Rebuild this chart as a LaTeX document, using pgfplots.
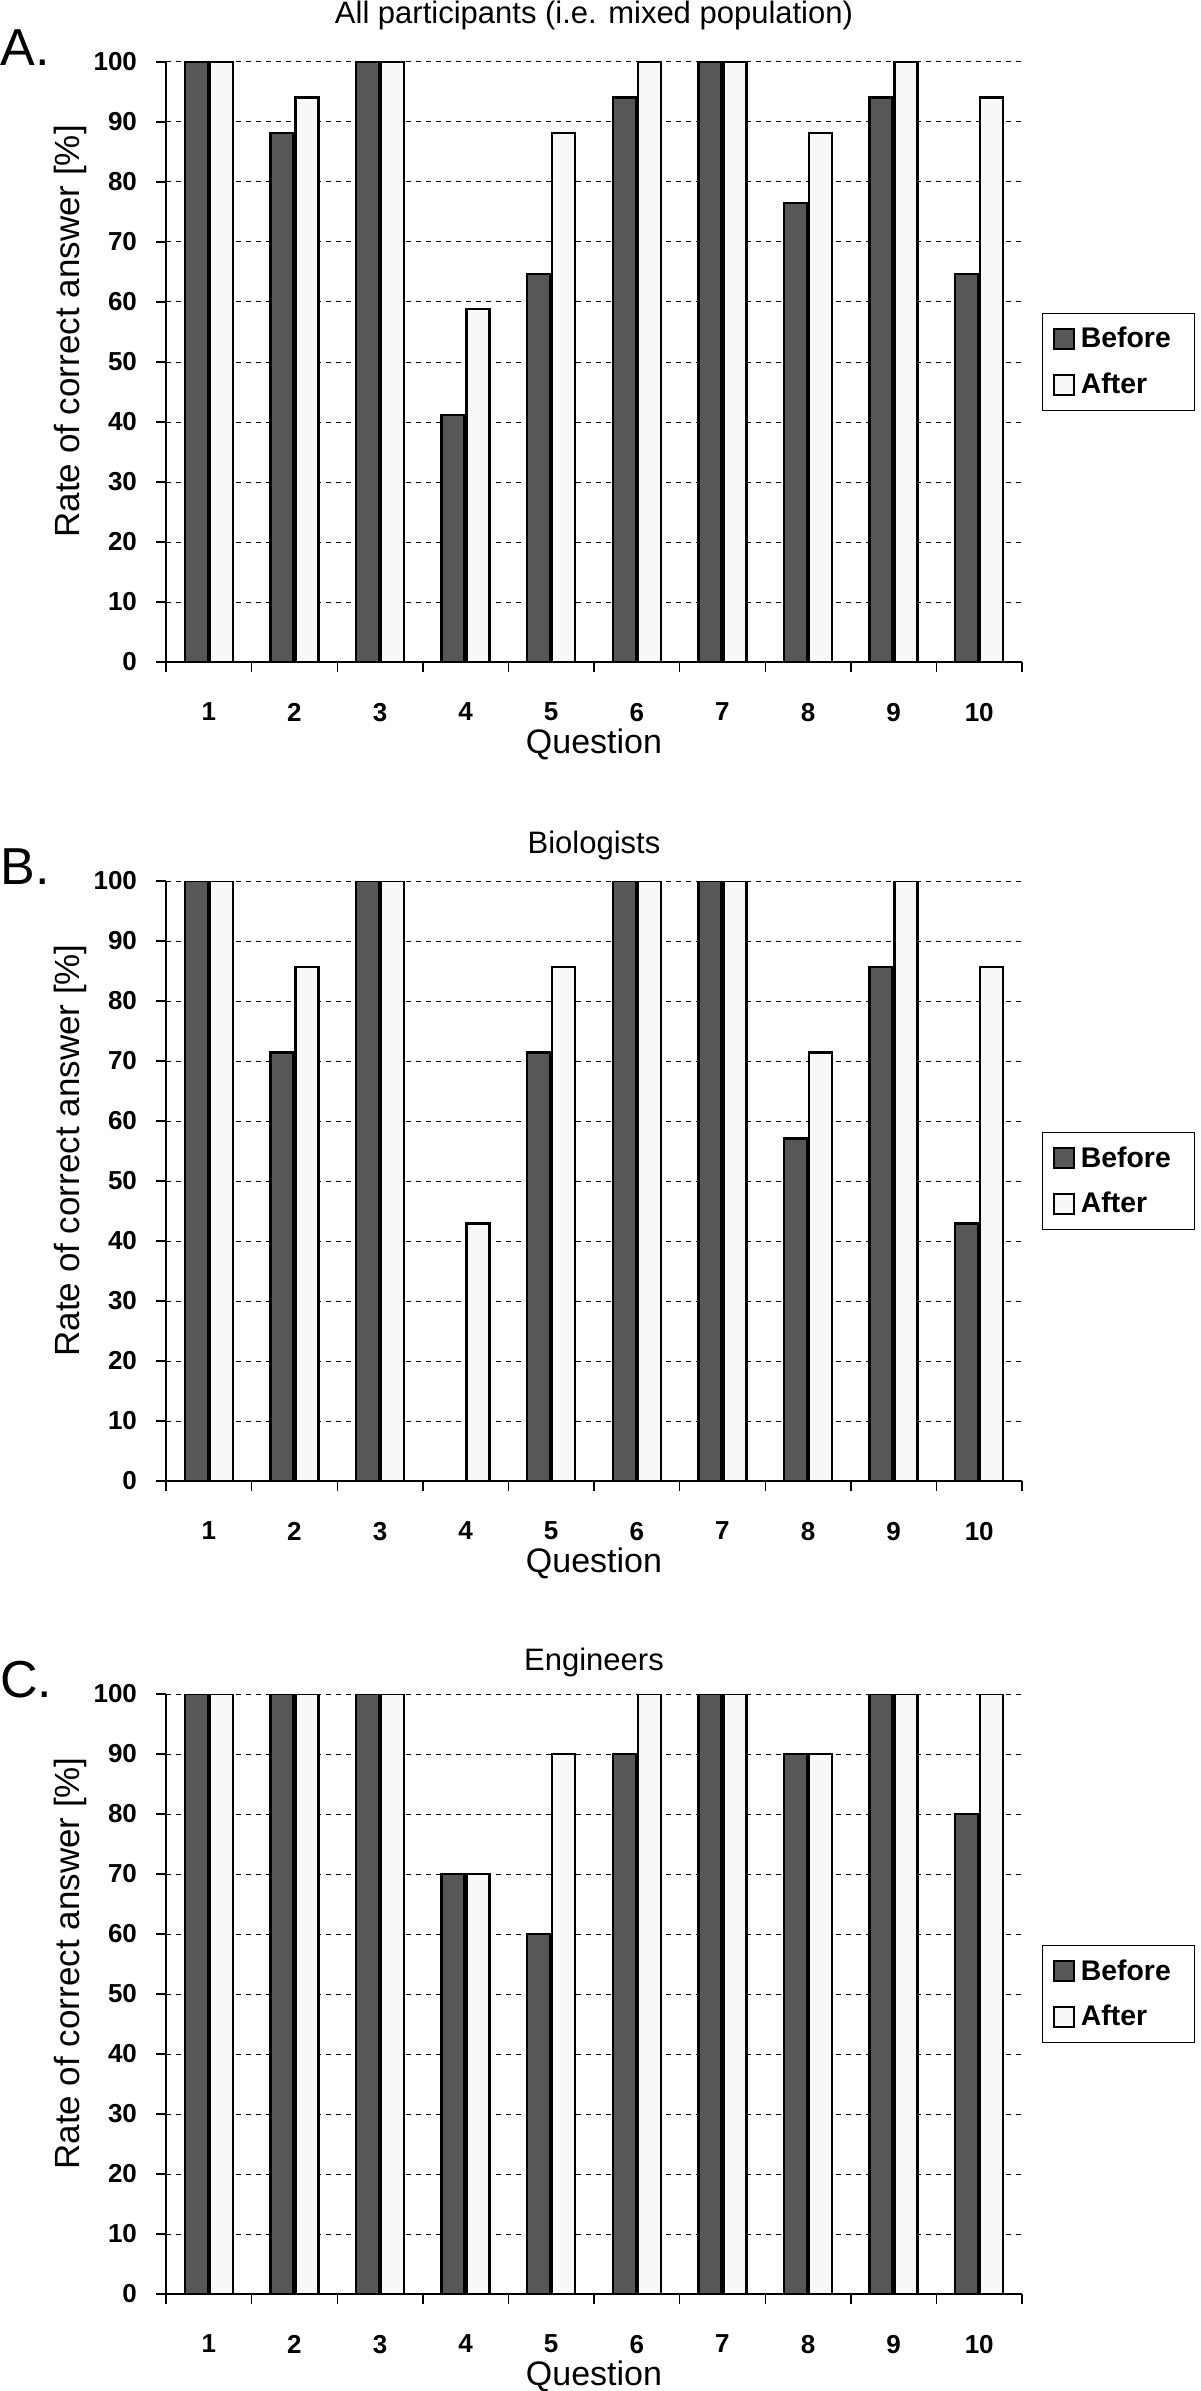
\documentclass[border=0pt]{standalone}
\usepackage{pgfplots}
\pgfplotsset{compat=1.18}
\usepackage{fontspec}
\setmainfont{Liberation Sans}

\definecolor{beforecol}{HTML}{575757}
\definecolor{aftercol}{HTML}{F8F8F8}

\pgfplotsset{
  panel/.style={
    scale only axis, width=428pt, height=300pt,
    anchor=south west,
    ybar=1pt, bar width=11.5pt,
    xmin=0.5, xmax=10.5, ymin=0, ymax=100,
    enlargelimits=false,
    axis x line*=bottom, axis y line*=left,
    axis line style={black, line width=0.7pt},
    xtick={1,...,10}, ytick={0,10,...,100},
    minor xtick={0.5,1.5,...,10.5},
    major x tick style={draw=none},
    minor x tick style={black, line width=0.7pt},
    y tick style={black, line width=0.7pt},
    tick align=outside, major tick length=5pt, minor tick length=5pt,
    ymajorgrids,
    major grid style={black, line width=0.5pt, dash pattern=on 2.5pt off 2.5pt},
    /pgf/number format/assume math mode=true,
    tick label style={font=\bfseries\fontsize{13}{13}\selectfont},
    xticklabel style={yshift=-12pt},
    yticklabel style={xshift=-6pt},
    xlabel={Question},
    ylabel={Rate of correct answer [\%]},
    every axis x label/.style={at={(axis description cs:0.5,-0.137)}, anchor=center,
      font=\fontsize{17}{17}\selectfont},
    every axis y label/.style={at={(axis description cs:-0.112,0.551)}, rotate=90, anchor=center,
      font=\fontsize{17.5}{17.5}\selectfont},
    legend style={at={(axis description cs:1.0234,0.5)}, anchor=west,
      draw=black, line width=0.6pt,
      font=\bfseries\fontsize{14.2}{14.2}\selectfont,
      inner xsep=5pt, inner ysep=5pt, row sep=7pt,
      cells={anchor=west}},
    legend image code/.code={\draw[#1, line width=1pt] (0pt,-5pt) rectangle (10pt,5pt); \path (11pt,0pt);},
  },
  bef/.style={fill=beforecol, draw=black, line width=1.2pt},
  aft/.style={fill=aftercol, draw=black, line width=1.2pt},
}

\begin{document}
\begin{tikzpicture}
\path[use as bounding box] (0,0) rectangle (600pt,-1195.5pt);

% Panel A
\begin{axis}[panel, at={(83pt,-331pt)},
  title={All participants (i.e. mixed population)},
  every axis title/.style={at={(axis description cs:0.5,1.078)}, anchor=center,
    font=\fontsize{15.5}{15.5}\selectfont}]
\addplot[bef] coordinates {(1,100) (2,88.2) (3,100) (4,41.2) (5,64.7) (6,94.1) (7,100) (8,76.5) (9,94.1) (10,64.7)};
\addplot[aft] coordinates {(1,100) (2,94.1) (3,100) (4,58.8) (5,88.2) (6,100) (7,100) (8,88.2) (9,100) (10,94.1)};
\legend{Before\hspace*{5pt}, After}
\end{axis}
\node[anchor=west, inner sep=0pt, font=\fontsize{26}{26}\selectfont] at (0pt,-24pt) {A.};

% Panel B
\begin{axis}[panel, at={(83pt,-740.5pt)},
  title={Biologists},
  every axis title/.style={at={(axis description cs:0.5,1.06)}, anchor=center,
    font=\fontsize{15.5}{15.5}\selectfont}]
\addplot[bef] coordinates {(1,100) (2,71.4) (3,100) (4,0) (5,71.4) (6,100) (7,100) (8,57.1) (9,85.7) (10,42.9)};
\addplot[aft] coordinates {(1,100) (2,85.7) (3,100) (4,42.9) (5,85.7) (6,100) (7,100) (8,71.4) (9,100) (10,85.7)};
\legend{Before\hspace*{5pt}, After}
\end{axis}
\node[anchor=west, inner sep=0pt, font=\fontsize{26}{26}\selectfont] at (0pt,-433.5pt) {B.};

% Panel C
\begin{axis}[panel, at={(83pt,-1147pt)},
  title={Engineers},
  every axis title/.style={at={(axis description cs:0.5,1.052)}, anchor=center,
    font=\fontsize{15.5}{15.5}\selectfont}]
\addplot[bef] coordinates {(1,100) (2,100) (3,100) (4,70) (5,60) (6,90) (7,100) (8,90) (9,100) (10,80)};
\addplot[aft] coordinates {(1,100) (2,100) (3,100) (4,70) (5,90) (6,100) (7,100) (8,90) (9,100) (10,100)};
\legend{Before\hspace*{5pt}, After}
\end{axis}
\node[anchor=west, inner sep=0pt, font=\fontsize{26}{26}\selectfont] at (0pt,-840pt) {C.};
\end{tikzpicture}
\end{document}
